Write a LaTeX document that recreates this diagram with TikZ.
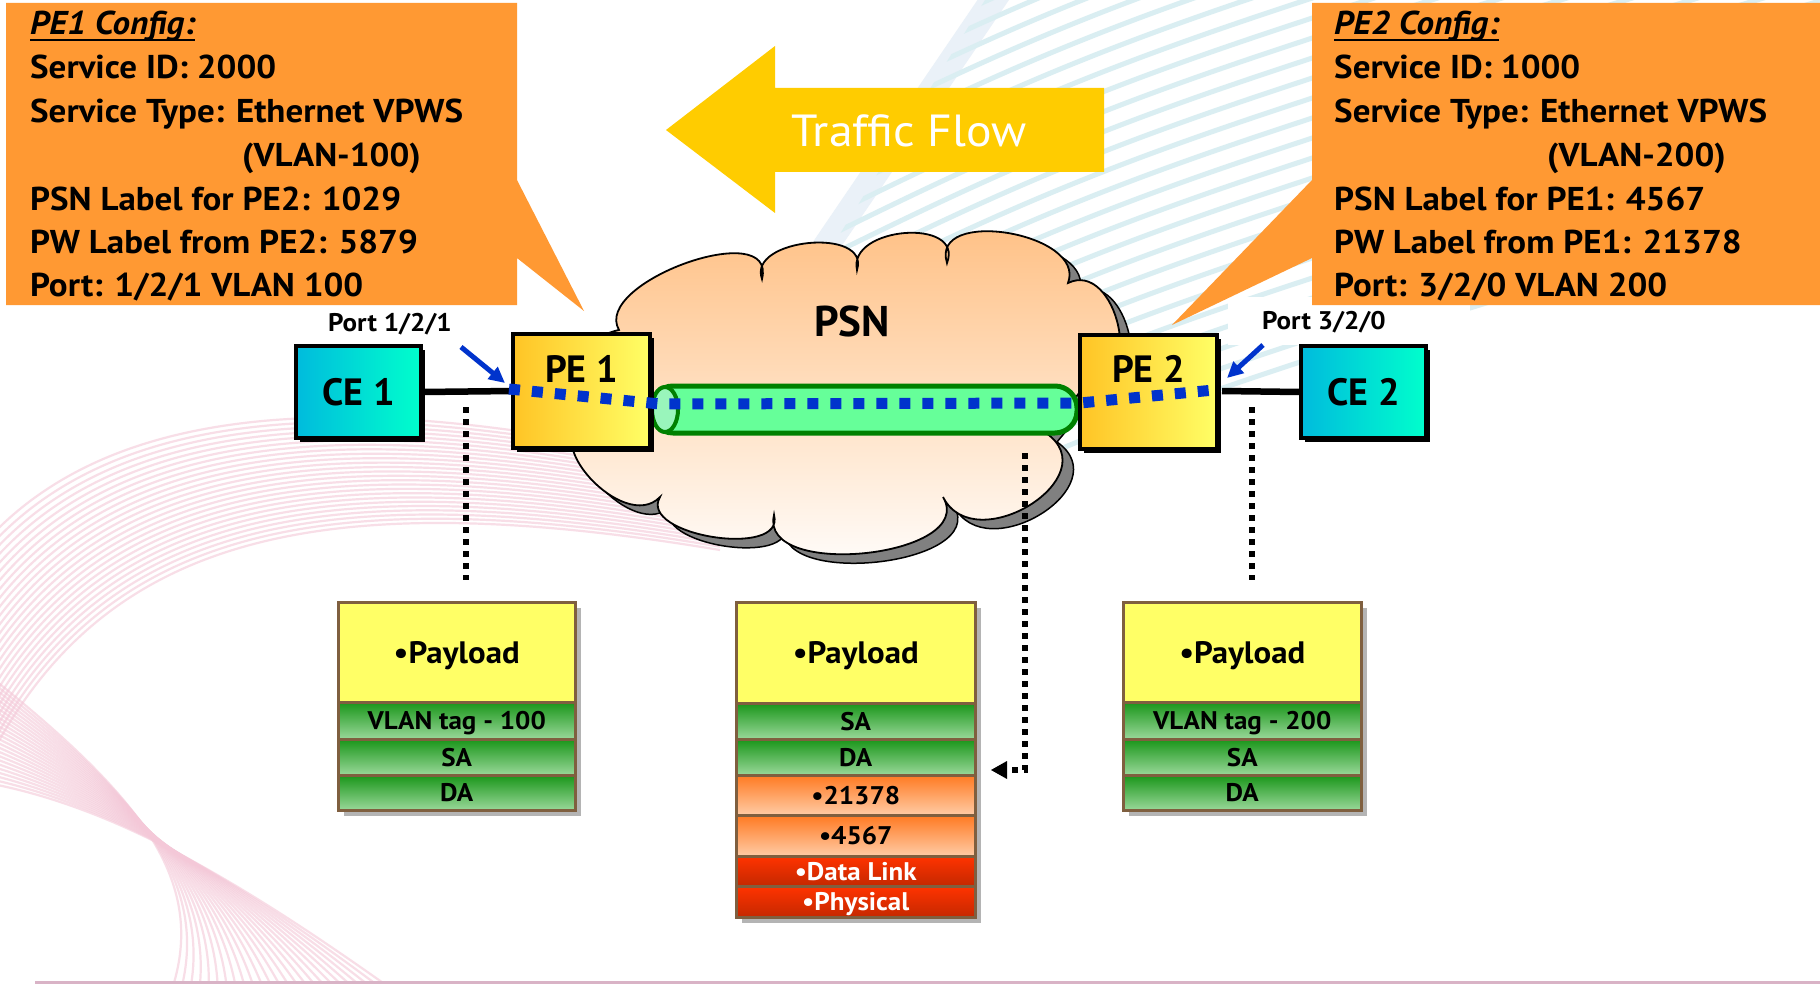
\documentclass[tikz,border=0pt]{standalone}
\usepackage{fontspec}
\setmainfont{PT Sans}[FakeStretch=1.06]
\newfontfamily\boxfont{PT Sans}
\usetikzlibrary{arrows.meta,shapes.geometric,shadows}
\definecolor{callout}{HTML}{FF9933}
\definecolor{arrowy}{HTML}{FFCC00}
\definecolor{peL}{HTML}{FFC425}
\definecolor{peR}{HTML}{FFFF66}
\definecolor{ceL}{HTML}{00BBDD}
\definecolor{ceR}{HTML}{00FFCC}
\definecolor{tubeF}{HTML}{66FF99}
\definecolor{tubeL}{HTML}{99F5BB}
\definecolor{tubeD}{HTML}{008000}
\definecolor{dotblue}{HTML}{0033CC}
\definecolor{cloudT}{HTML}{FFBE80}
\definecolor{cloudM}{HTML}{FDDCC6}
\definecolor{cloudS}{HTML}{808080}
\definecolor{payY}{HTML}{FFFF66}
\definecolor{grT}{HTML}{1A961A}
\definecolor{grB}{HTML}{9AD89A}
\definecolor{orT}{HTML}{FF7A22}
\definecolor{orB}{HTML}{FFCCA6}
\definecolor{rdT}{HTML}{FF3300}
\definecolor{rdB}{HTML}{C42800}
\definecolor{rowline}{HTML}{7F5F3F}
\definecolor{pinkbg}{HTML}{F4C8D8}
\definecolor{bluebg}{HTML}{DAEEF2}
\definecolor{palebg}{HTML}{EAF1F8}
\definecolor{stackshadow}{HTML}{B4B4B4}
\definecolor{botline}{HTML}{D9B3C6}
\begin{document}
\begin{tikzpicture}[x=1pt,y=1pt,
  cfgtext/.style={anchor=base west, inner sep=0pt, font=\fontsize{33}{40}\selectfont\bfseries},
  cfgtitle/.style={anchor=base west, inner sep=0pt, font=\fontsize{33}{40}\selectfont\bfseries\itshape},
  portlbl/.style={anchor=base, inner sep=0pt, font=\fontsize{25.5}{30}\selectfont\bfseries},
  boxtext/.style={anchor=base, inner sep=0pt, font=\boxfont\fontsize{38}{44}\selectfont\bfseries},
  cebox/.style={draw=black, line width=3.5pt, left color=ceL, right color=ceR,
     minimum width=125pt, minimum height=92pt, inner sep=0pt,
     font=\boxfont\fontsize{38}{44}\selectfont\bfseries, text height=26.6pt, text depth=0pt,
     drop shadow={shadow xshift=4pt, shadow yshift=-4pt, fill=black, opacity=1}},
  pebox/.style={draw=black, line width=3.5pt, left color=peL, right color=peR,
     minimum width=137pt, minimum height=114pt, inner sep=0pt,
     drop shadow={shadow xshift=4pt, shadow yshift=-4pt, fill=black, opacity=1}},
  row/.style={draw=rowline, line width=2.5pt, anchor=north west, inner sep=0pt,
     text height=18pt, text depth=0pt, font=\fontsize{25.5}{30}\selectfont\bfseries},
  rowpay/.style={row, fill=payY, text height=21.7pt, font=\fontsize{31}{36}\selectfont\bfseries},
  rowgreen/.style={row, top color=grT, bottom color=grB},
  rowor/.style={row, top color=orT, bottom color=orB},
  rowred/.style={row, top color=rdT, bottom color=rdB, text=white},
  bluedots/.style={dotblue, line width=11pt, dash pattern=on 11pt off 12pt},
  blkdots/.style={black, line width=6pt, dash pattern=on 6pt off 6pt},
  portarrow/.style={dotblue, line width=5pt, -{Triangle[length=16pt,width=15pt]}},
  linkline/.style={black, line width=6.5pt}
]
\useasboundingbox (0,0) rectangle (1820,-984);
\fill[white] (0,0) rectangle (1820,-984);

% background decoration
\begin{scope}
\clip (0,0) rectangle (1820,-984);
\draw[palebg, line width=26pt] (1000,10) -- (815,-262);
\begin{scope}
\clip (985,0) -- (1820,0) -- (1820,-300) -- (1150,-470) -- (960,-470) -- (830,-250) -- cycle;
\foreach \b in {340,360,...,820} {
  \draw[bluebg, line width=5pt] (700, -\b+200) .. controls (1100, -\b+400) .. (1830, -\b+622.2);
}
\end{scope}
\foreach \i in {0,...,24} {
  \pgfmathsetmacro\t{\i/24}
  \draw[pinkbg, line width=2.2pt, opacity=0.6]
    (-30, -560-240*\t) .. controls (80, -420-120*\t) and (300, -370-110*\t) .. (720, -470-80*\t);
  \draw[pinkbg, line width=2.2pt, opacity=0.6]
    (170+230*\t, -995) .. controls (215+10*\t, -870) and (120-20*\t, -780-20*\t) .. (-30, -660-120*\t);
}
\end{scope}
\draw[botline, line width=3pt] (35,-982) -- (1820,-982);

% white box behind right port label
\fill[white] (1228,-297) rectangle (1470,-345);

% callouts
\fill[callout] (6,-3) -- (517,-3) -- (517,-180) -- (584,-311) -- (517,-258) -- (517,-305) -- (6,-305) -- cycle;
\fill[callout] (1312,-3) -- (1820,-3) -- (1820,-305) -- (1312,-305) -- (1312,-258) -- (1172,-325) -- (1312,-180) -- cycle;

\node[cfgtitle] (t1a) at (30,-35) {PE1 Config:};
\draw[line width=2.5pt] ([yshift=-5pt]t1a.base west) -- ([yshift=-5pt]t1a.base east);
\node[cfgtext] (t1b) at (30,-79) {Service ID: 2000};
\node[cfgtext] (t1c) at (30,-123) {Service Type: Ethernet VPWS};
\node[cfgtext] (t1d) at (242,-167) {(VLAN-100)};
\node[cfgtext] (t1e) at (30,-211) {PSN Label for PE2: 1029};
\node[cfgtext] (t1f) at (30,-254) {PW Label from PE2: 5879};
\node[cfgtext] (t1g) at (30,-297) {Port: 1/2/1 VLAN 100};

\node[cfgtitle] (t2a) at (1334,-35) {PE2 Config:};
\draw[line width=2.5pt] ([yshift=-5pt]t2a.base west) -- ([yshift=-5pt]t2a.base east);
\node[cfgtext] (t2b) at (1334,-79) {Service ID: 1000};
\node[cfgtext] (t2c) at (1334,-123) {Service Type: Ethernet VPWS};
\node[cfgtext] (t2d) at (1547,-167) {(VLAN-200)};
\node[cfgtext] (t2e) at (1334,-211) {PSN Label for PE1: 4567};
\node[cfgtext] (t2f) at (1334,-254) {PW Label from PE1: 21378};
\node[cfgtext] (t2g) at (1334,-297) {Port: 3/2/0 VLAN 200};

% traffic flow arrow
\fill[arrowy] (666,-130) -- (775,-46) -- (775,-88) -- (1104,-88) -- (1104,-172) -- (775,-172) -- (775,-213) -- cycle;
\node[anchor=base, inner sep=0pt, text=white, font=\fontsize{45}{50}\selectfont] (tf) at (909,-147) {Traffic Flow};

% cloud
\newcommand\cloudpath{(619,-330)
  .. controls (591.5,-282.4) and (777.5,-216) .. (762,-279)
  .. controls (747,-238.4) and (870.6,-226.6) .. (857,-270)
  .. controls (847.5,-226.4) and (964.5,-217.3) .. (947,-263)
  .. controls (929.5,-206.7) and (1086.9,-232.7) .. (1068,-283)
  .. controls (1116.7,-259.7) and (1145.3,-385.9) .. (1090,-380)
  -- (1046,-433)
  .. controls (1108.8,-476.7) and (974.8,-559.9) .. (943,-497)
  .. controls (978.4,-557) and (758.6,-580.4) .. (774,-515)
  .. controls (785.8,-559) and (637.6,-535.6) .. (660,-497)
  .. controls (623.8,-534.6) and (532.8,-434.4) .. (590,-420)
  .. controls (560,-400) and (570,-340) .. (619,-330) -- cycle}
\draw[fill=cloudS, draw=black, line width=1.5pt, xshift=11pt, yshift=-9pt] \cloudpath;
\draw[top color=cloudT, middle color=cloudM, bottom color=white, draw=black, line width=1.8pt] \cloudpath;
\node[anchor=base, inner sep=0pt, font=\boxfont\fontsize{43}{48}\selectfont\bfseries] (psn) at (852,-336) {PSN};

% tube
\node[draw=tubeD, line width=5pt, fill=tubeF, rounded corners=22pt, minimum width=426pt, minimum height=47pt, inner sep=0pt] (tube) at (864,-409.5) {};
\node[ellipse, draw=tubeD, line width=4pt, fill=tubeL, minimum width=26pt, minimum height=45pt, inner sep=0pt] (tubecap) at (665,-409.5) {};

% CE and PE boxes
\node[cebox] (ce1) at (358.5,-392) {CE 1};
\node[cebox] (ce2) at (1363.5,-392) {CE 2};
\draw[linkline] (ce1.east) -- (513,-391) coordinate (l1e);
\draw[linkline] (1222,-391) coordinate (l2s) -- (ce2.west);
\node[pebox] (pe1) at (581.5,-391) {};
\node[pebox] (pe2) at (1148.5,-392) {};
\node[boxtext] (pe1t) at (581.5,-382) {PE 1};
\node[boxtext] (pe2t) at (1148.5,-382) {PE 2};

% pseudowire dotted line
\coordinate (bA) at (509,-389);
\coordinate (bB) at (660,-404);
\coordinate (bC) at (1080,-403);
\coordinate (bD) at (1214,-390);
\draw[bluedots] (bA) -- (bB) -- (bC) -- (bD);

% port labels and arrows
\node[portlbl] (p1) at (390,-331) {Port 1/2/1};
\node[portlbl] (p2) at (1324,-330) {Port 3/2/0};
\coordinate (pa1s) at (461,-347);
\coordinate (pa1e) at (505,-383);
\coordinate (pa2s) at (1263,-345);
\coordinate (pa2e) at (1227,-378);
\draw[portarrow] (pa1s) -- (pa1e);
\draw[portarrow] (pa2s) -- (pa2e);

% black dotted drop lines
\coordinate (d1s) at (466,-407); \coordinate (d1e) at (466,-580);
\coordinate (d2s) at (1252,-407); \coordinate (d2e) at (1252,-580);
\coordinate (d3s) at (1025,-453); \coordinate (d3m) at (1025,-770); \coordinate (d3e) at (991,-770);
\draw[blkdots] (d1s) -- (d1e);
\draw[blkdots] (d2s) -- (d2e);
\draw[blkdots] (d3s) -- (d3m) -- (1005,-770);
\fill[black] (d3e) -- (1007,-761) -- (1007,-779) -- cycle;

% stacks
\fill[stackshadow] (344,-608) rectangle (581,-816);
\fill[stackshadow] (742,-608) rectangle (981,-923);
\fill[stackshadow] (1129,-608) rectangle (1367,-816);

\node[rowpay, minimum width=237pt, minimum height=100pt] (lp) at (337,-601) {\textbullet Payload};
\node[rowgreen, minimum width=237pt, minimum height=37pt] (lv) at (337,-701) {VLAN tag - 100};
\node[rowgreen, minimum width=237pt, minimum height=36pt] (ls) at (337,-738) {SA};
\node[rowgreen, minimum width=237pt, minimum height=35pt] (ld) at (337,-774) {DA};

\node[rowpay, minimum width=239pt, minimum height=101pt] (mp) at (735,-601) {\textbullet Payload};
\node[rowgreen, minimum width=239pt, minimum height=36pt] (ms) at (735,-702) {SA};
\node[rowgreen, minimum width=239pt, minimum height=36pt] (md) at (735,-738) {DA};
\node[rowor, minimum width=239pt, minimum height=40pt] (m1) at (735,-774) {\textbullet 21378};
\node[rowor, minimum width=239pt, minimum height=41pt] (m2) at (735,-814) {\textbullet 4567};
\node[rowred, minimum width=239pt, minimum height=30pt] (m3) at (735,-855) {\textbullet Data Link};
\node[rowred, minimum width=239pt, minimum height=31pt] (m4) at (735,-885) {\textbullet Physical};

\node[rowpay, minimum width=238pt, minimum height=100pt] (rp) at (1122,-601) {\textbullet Payload};
\node[rowgreen, minimum width=238pt, minimum height=37pt] (rv) at (1122,-701) {VLAN tag - 200};
\node[rowgreen, minimum width=238pt, minimum height=36pt] (rs) at (1122,-738) {SA};
\node[rowgreen, minimum width=238pt, minimum height=35pt] (rd) at (1122,-774) {DA};
\end{tikzpicture}
\end{document}
